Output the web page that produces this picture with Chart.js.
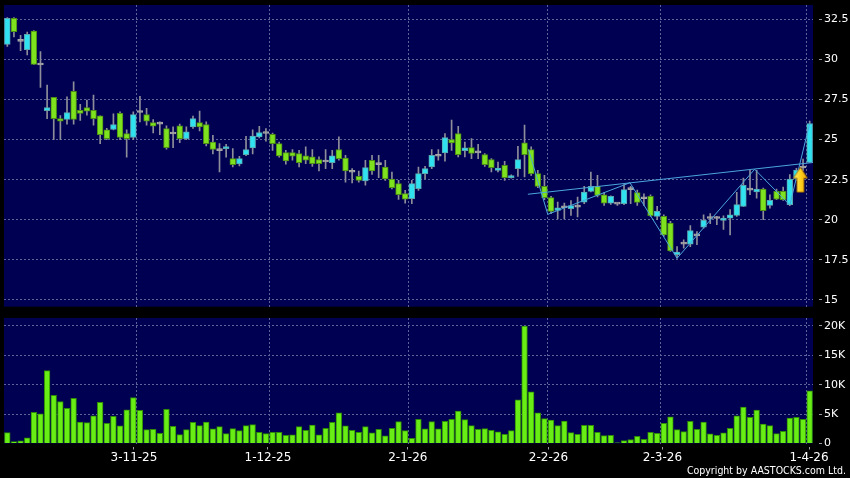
<!DOCTYPE html>
<html><head><meta charset="utf-8">
<script src="https://cdn.jsdelivr.net/npm/chart.js@4.4.1/dist/chart.umd.min.js"></script>
<style>
html,body{margin:0;padding:0;background:#000;}
#wrap{position:relative;width:850px;height:478px;overflow:hidden;background:#000;}
#c1{position:absolute;left:0;top:0;}
#c2{position:absolute;left:0;top:312px;}
#copy{position:absolute;right:4px;top:465px;color:#fff;font-family:"DejaVu Sans Condensed","DejaVu Sans",sans-serif;font-size:10.5px;line-height:11px;white-space:nowrap;}
</style></head>
<body>
<div id="wrap">
<canvas id="c1" width="850" height="312"></canvas>
<canvas id="c2" width="850" height="166"></canvas>
<div id="copy">Copyright by AASTOCKS.com Ltd.</div>
</div>
<script>
// ---- data ----
const openP  = [30.94,32.56,31.12,30.6,31.77,29.65,26.8,27.63,26.31,26.25,28.0,26.83,27.0,26.83,26.48,25.6,25.63,26.63,25.38,25.13,26.69,26.56,26.06,25.96,25.69,25.35,25.85,25.06,25.79,26.06,25.94,24.85,24.31,24.44,23.81,23.48,24.06,24.48,25.17,25.38,25.33,24.75,24.19,24.19,24.13,23.98,23.92,23.75,23.6,23.56,24.38,23.85,22.96,22.71,22.42,23.71,23.44,23.29,22.54,22.25,21.63,21.31,21.94,22.88,23.29,23.96,24.17,25.0,25.38,24.31,24.5,24.17,24.06,23.75,23.08,23.4,22.63,23.19,24.79,24.38,22.88,22.08,21.38,20.58,20.75,20.69,20.79,21.1,21.77,22.08,21.56,21.04,20.98,21.0,21.88,21.7,21.31,21.46,20.21,20.21,19.79,17.83,18.48,18.48,19.0,19.54,20.08,20.08,19.96,20.1,20.27,20.83,21.85,21.73,21.92,20.9,21.77,21.77,20.94,22.55,23.23,23.58];
const highP  = [32.6,32.6,31.5,31.7,31.8,30.48,28.4,27.63,26.5,27.67,28.6,27.2,27.46,27.77,26.48,25.7,26.6,26.73,25.6,26.73,27.7,26.94,26.25,26.1,25.85,25.8,25.96,25.8,26.46,26.77,26.1,25.27,24.75,24.7,24.44,23.96,25.2,25.6,25.83,25.69,25.4,24.85,24.33,24.38,24.33,24.54,24.38,23.92,24.38,24.33,25.17,24.02,23.19,23.04,23.71,24.02,24.02,23.71,22.98,22.46,21.83,22.46,23.29,23.33,24.38,24.38,25.38,26.21,25.83,24.85,25.06,24.71,24.13,23.81,23.6,23.65,22.8,24.58,25.9,24.54,23.08,22.77,21.46,21.1,21.04,21.2,21.42,22.08,22.98,22.77,21.7,21.5,21.0,22.19,22.08,21.85,21.62,21.56,20.83,20.31,19.9,18.33,18.75,19.63,19.27,20.31,20.38,20.21,20.25,20.63,21.71,22.6,23.1,23.08,21.98,21.56,21.92,22.04,22.81,23.2,23.79,26.15];
const lowP   = [30.8,31.4,30.55,30.27,29.69,28.25,26.3,25.0,25.0,25.96,25.96,26.2,26.52,25.9,24.75,25.0,25.6,25.0,23.9,25.0,26.1,25.9,25.42,25.3,24.4,24.5,24.8,25.0,25.69,25.54,24.6,24.1,22.98,23.9,23.3,23.35,24.0,24.1,25.1,24.9,24.33,23.9,23.46,23.71,23.29,23.5,23.33,23.04,23.19,23.19,23.71,22.35,22.29,22.35,22.15,22.83,22.63,22.46,21.92,21.27,21.04,21.0,21.83,22.54,23.19,23.71,23.65,24.33,23.92,23.92,23.81,23.81,23.33,22.98,22.98,22.46,22.6,22.71,22.67,22.77,22.0,21.25,20.38,20.06,20.06,20.27,20.17,21.0,21.73,21.42,20.9,20.95,20.9,20.94,21.0,20.9,20.9,20.21,20.0,18.96,18.02,17.6,18.23,18.33,18.44,19.48,19.75,19.69,19.4,19.06,20.21,20.83,21.56,21.35,20.0,20.73,21.25,21.21,20.88,22.45,23.08,23.58];
const closeP = [32.56,31.73,31.12,31.56,29.69,29.65,27.0,26.31,26.15,26.69,26.25,26.63,26.77,26.31,25.31,25.06,25.94,25.13,25.06,26.56,26.69,26.15,25.83,25.96,24.5,25.35,25.06,25.48,26.31,25.79,24.75,24.38,24.31,24.56,23.44,23.81,24.38,25.21,25.44,25.38,24.75,23.98,23.67,23.96,23.56,23.71,23.5,23.5,23.6,23.98,23.81,23.04,22.96,22.46,23.25,23.04,23.44,22.54,22.0,21.56,21.29,22.25,22.88,23.19,24.02,23.96,25.13,24.79,24.06,24.48,24.13,24.17,23.44,23.25,23.23,22.63,22.73,23.75,24.06,22.88,22.08,21.38,20.52,20.75,20.75,20.88,20.79,21.73,22.08,21.52,21.04,21.46,20.98,21.88,21.88,21.08,21.31,20.25,20.52,19.06,18.06,17.98,18.48,19.33,19.0,19.96,20.08,20.08,20.1,20.31,20.94,22.15,21.85,21.92,20.56,21.21,21.29,21.25,22.54,23.1,23.23,26.0];
const volumeK = [1.86,0.34,0.45,0.96,5.3,5.07,12.4,8.2,7.15,5.97,7.7,3.66,3.55,4.73,6.99,3.44,4.62,2.99,5.75,7.83,5.63,2.37,2.42,1.75,5.8,2.93,1.52,2.37,3.6,3.04,3.66,2.48,2.87,1.69,2.54,2.2,3.04,3.2,1.92,1.69,1.92,1.92,1.41,1.46,2.87,2.25,3.15,1.46,2.59,3.6,5.24,2.99,2.25,1.92,2.87,1.8,2.42,1.3,2.59,3.72,2.2,0.9,4.11,2.48,3.72,2.48,3.77,4.11,5.52,4.06,3.04,2.42,2.54,2.25,1.97,1.58,2.2,7.44,20.0,8.79,5.24,4.23,4.0,3.04,3.83,1.86,1.58,3.1,3.1,1.92,1.35,1.41,0.11,0.5,0.68,1.24,0.73,1.92,1.75,3.44,4.56,2.37,2.03,3.77,2.42,3.66,1.63,1.41,1.8,2.59,4.73,6.2,4.45,5.69,3.32,3.04,1.69,2.08,4.34,4.45,4.11,8.96];
const dateLabels = ['3-11-25','1-12-25','2-1-26','2-2-26','2-3-26','1-4-26'];
const dateIndex  = [20,40,61,82,99,121];          // first trading day of each month (grid line at its left edge)
const labelPos   = [19.1,39.3,60.4,81.6,98.8,120.9]; // where the date text and tick mark sit
const priceTicks = [15,17.5,20,22.5,25,27.5,30,32.5];
const volTicks   = [0,5,10,15,20];
const volTickLabels = ['0','5K','10K','15K','20K'];
// drawn pattern lines (bar index, price)
const neckX = [78.5,121.5];
const neckY = [21.59,23.57];
const zigX  = [78.6,81.5,93.9,101,112.7,118,121];
const zigY  = [24.38,20.34,22.31,17.6,23.15,20.92,26.0];
const arrowX = 119.6, arrowY = 22.5;

// ---- styling ----
const NAVY = '#000052';
const GRID = '#5a6498';
const TICKC = '#9a9aa6';
const N = openP.length;
const gridPos = dateIndex.map(i => i - 0.5);

const bodyFill = [], bodyLine = [];
for (let i = 0; i < N; i++) {
  if (closeP[i] > openP[i]) { bodyFill.push('#30e2f0'); bodyLine.push('#5aa7b0'); }
  else if (closeP[i] < openP[i]) { bodyFill.push('#7ee21e'); bodyLine.push('#4c8f14'); }
  else { bodyFill.push('#a8a8a8'); bodyLine.push('#a8a8a8'); }
}

const bgPlugin = {
  id: 'bg',
  beforeDraw(chart) {
    const a = chart.chartArea, c = chart.ctx;
    c.save(); c.fillStyle = NAVY; c.fillRect(a.left, a.top, a.right - a.left, a.bottom - a.top); c.restore();
  }
};

// arrow marker
const arrowImg = document.createElement('canvas');
arrowImg.width = 16; arrowImg.height = 27;
(function(){
  const c = arrowImg.getContext('2d');
  const g = c.createLinearGradient(0, 0, 16, 0);
  g.addColorStop(0, '#fff27a'); g.addColorStop(0.5, '#ffd21e'); g.addColorStop(1, '#e89a00');
  c.fillStyle = g;
  c.beginPath();
  c.moveTo(8, 1); c.lineTo(15, 12); c.lineTo(11.5, 12); c.lineTo(11.5, 26);
  c.lineTo(4.5, 26); c.lineTo(4.5, 12); c.lineTo(1, 12); c.closePath();
  c.fill();
  c.strokeStyle = 'rgba(150,100,0,0.8)'; c.lineWidth = 1; c.stroke();
})();

const zeroPad = s => { s.paddingTop = 0; s.paddingBottom = 0; s.paddingLeft = 0; s.paddingRight = 0; };

const gridAxis = {
  type: 'linear', min: -0.5, max: 121.5, offset: false,
  afterBuildTicks: s => { s.ticks = gridPos.map(v => ({ value: v })); },
  ticks: { display: false },
  grid: { color: GRID, drawTicks: false, lineWidth: 1, offset: false },
  border: { display: false, dash: [2, 2] },
  afterFit: s => { s.height = 0; zeroPad(s); }
};

new Chart(document.getElementById('c1'), {
  type: 'bar',
  data: {
    datasets: [
      { type: 'scatter', data: [{ x: arrowX, y: arrowY }], pointStyle: arrowImg, pointRadius: 1, order: 0 },
      { type: 'line', data: neckX.map((x, k) => ({ x, y: neckY[k] })), borderColor: '#4ba6dc', borderWidth: 1, pointRadius: 0, order: 1 },
      { type: 'line', data: zigX.map((x, k) => ({ x, y: zigY[k] })), borderColor: '#4ba6dc', borderWidth: 1, pointRadius: 0, tension: 0, order: 1 },
      { data: openP.map((o, i) => ({ x: i, y: [o, closeP[i]] })), backgroundColor: bodyFill, borderColor: bodyLine, borderWidth: 1, borderSkipped: false, barThickness: 5.8, minBarLength: 2, grouped: false, order: 2 },
      { data: lowP.map((l, i) => ({ x: i, y: [l, highP[i]] })), backgroundColor: '#8e8e9a', barThickness: 1, grouped: false, order: 3 }
    ]
  },
  options: {
    responsive: false, animation: false, events: [],
    layout: { autoPadding: false, padding: { left: 4, top: 5, right: 0, bottom: 5.3 } },
    plugins: { legend: { display: false }, tooltip: { enabled: false } },
    scales: {
      x: gridAxis,
      y: {
        position: 'right', min: 14.58, max: 33.39,
        afterBuildTicks: s => { s.ticks = priceTicks.map(v => ({ value: v })); },
        ticks: { color: '#ffffff', font: { family: 'DejaVu Sans', size: 11 }, padding: 2, callback: v => String(v) },
        grid: { color: GRID, tickColor: TICKC, tickLength: 9, tickBorderDash: [0, 6, 3, 30] },
        border: { display: false, dash: [2, 2] },
        afterFit: s => { s.width = 37; zeroPad(s); }
      }
    }
  },
  plugins: [bgPlugin]
});

new Chart(document.getElementById('c2'), {
  type: 'bar',
  data: {
    datasets: [
      { data: volumeK.map((v, i) => ({ x: i, y: v })), backgroundColor: '#68ee14', borderColor: '#2f8c06', borderWidth: 1, barThickness: 5.7 }
    ]
  },
  options: {
    responsive: false, animation: false, events: [],
    layout: { autoPadding: false, padding: { left: 4, top: 6, right: 0, bottom: 0 } },
    plugins: { legend: { display: false }, tooltip: { enabled: false } },
    scales: {
      x: gridAxis,
      x2: {
        type: 'linear', position: 'bottom', min: -0.5, max: 121.5, offset: false,
        afterBuildTicks: s => { s.ticks = labelPos.map(v => ({ value: v })); },
        ticks: { color: '#ffffff', font: { family: 'DejaVu Sans', size: 12 }, padding: 1, maxRotation: 0, autoSkip: false, callback: (v, i) => dateLabels[i] },
        grid: { drawOnChartArea: false, color: TICKC, tickColor: TICKC, tickLength: 6, tickBorderDash: [0, 3, 3, 30], offset: false },
        border: { display: false },
        afterFit: s => { s.height = 34.5; zeroPad(s); }
      },
      y: {
        position: 'right', min: 0, max: 21.36,
        afterBuildTicks: s => { s.ticks = volTicks.map(v => ({ value: v })); },
        ticks: { color: '#ffffff', font: { family: 'DejaVu Sans', size: 11 }, padding: 2, callback: (v, i) => volTickLabels[i] },
        grid: { color: c => (c.tick && c.tick.value === 0 ? 'rgba(0,0,0,0)' : GRID), tickColor: TICKC, tickLength: 9, tickBorderDash: [0, 6, 3, 30] },
        border: { display: false, dash: [2, 2] },
        afterFit: s => { s.width = 37; zeroPad(s); }
      }
    }
  },
  plugins: [bgPlugin]
});
</script>
</body></html>
